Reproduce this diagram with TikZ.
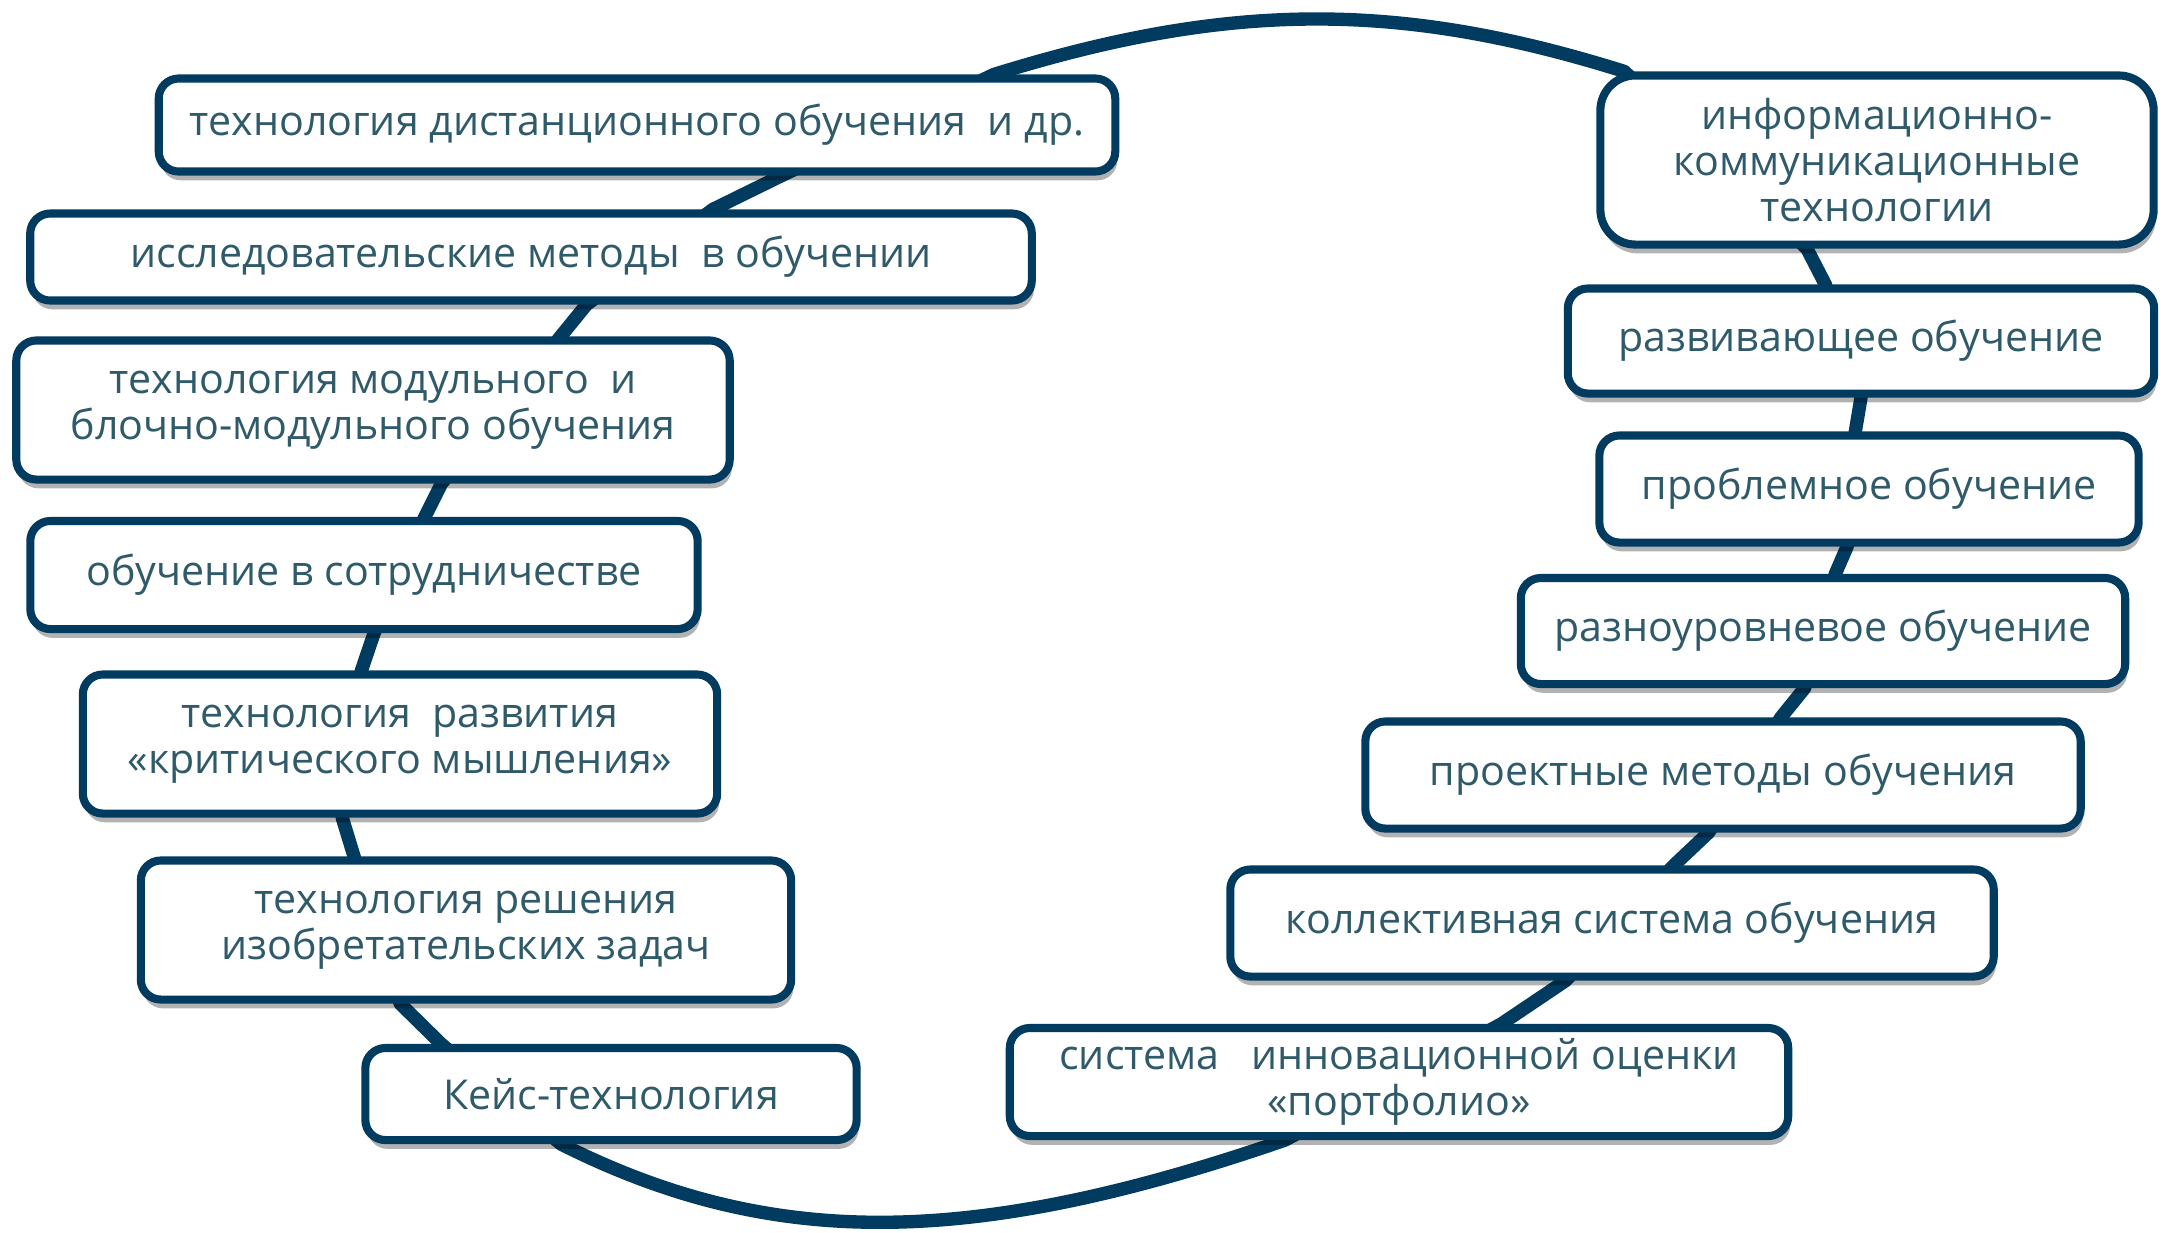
\documentclass[tikz,border=0pt]{standalone}
\usepackage{fontspec}
\setmainfont{Open Sans}
\usepackage{tikz}
\usepackage{xcolor}
\definecolor{vizRing}{HTML}{023B60}
\definecolor{vizText}{HTML}{2F5A6A}
\usetikzlibrary{calc,shadows,backgrounds}

\tikzset{
  techbox/.style={draw=vizRing, line width=2.3pt, fill=white, rounded corners=0.2cm,
    align=center, text=vizText, font=\fontsize{11.7}{13.2}\selectfont, inner sep=0pt,
    drop shadow={shadow xshift=0.6pt, shadow yshift=-2.5pt, fill=black, opacity=0.3}},
  ring/.style={draw=vizRing, line width=3.8pt, line join=round}
}

\begin{document}
\begin{tikzpicture}[x=0.01cm, y=-0.01cm]
  \useasboundingbox (0,0) rectangle (2164,1232);
  % left column
  \node[techbox, minimum width=9.56cm, minimum height=0.93cm] (a1) at (637,125) {технология дистанционного обучения \ и др.};
  \node[techbox, minimum width=10.01cm, minimum height=0.87cm] (a2) at (531,257) {исследовательские методы \ в обучении};
  \node[techbox, minimum width=7.13cm, minimum height=1.39cm] (a3) at (373,410) {технология модульного \ и\\блочно-модульного обучения};
  \node[techbox, minimum width=6.67cm, minimum height=1.08cm] (a4) at (364,575) {обучение в сотрудничестве};
  \node[techbox, minimum width=6.34cm, minimum height=1.39cm] (a5) at (400,744) {технология \ развития\\«критического мышления»};
  \node[techbox, minimum width=6.50cm, minimum height=1.39cm] (a6) at (466,930) {технология решения\\изобретательских задач};
  \node[techbox, minimum width=4.91cm, minimum height=0.92cm] (a7) at (611,1094) {Кейс-технология};
  % right column
  \node[techbox, rounded corners=0.35cm, minimum width=5.53cm, minimum height=1.69cm] (b1) at (1877,160) {информационно-\\коммуникационные\\технологии};
  \node[techbox, minimum width=5.86cm, minimum height=1.05cm] (b2) at (1861,341) {развивающее обучение};
  \node[techbox, minimum width=5.39cm, minimum height=1.07cm] (b3) at (1869,489) {проблемное обучение};
  \node[techbox, minimum width=6.04cm, minimum height=1.06cm] (b4) at (1823,631) {разноуровневое обучение};
  \node[techbox, minimum width=7.15cm, minimum height=1.07cm] (b5) at (1723,775) {проектные методы обучения};
  \node[techbox, minimum width=7.63cm, minimum height=1.07cm] (b6) at (1612,923) {коллективная система обучения};
  \node[techbox, minimum width=7.78cm, minimum height=1.08cm] (b7) at (1399,1082) {система \ \ инновационной оценки\\«портфолио»};
  % where the ring meets the boxes
  \coordinate (a1t) at ($(a1.north west)!.87!(a1.north east)$);
  \coordinate (a1b) at ($(a1.south west)!.65!(a1.south east)$);
  \coordinate (a2t) at ($(a2.north west)!.68!(a2.north east)$);
  \coordinate (a2b) at ($(a2.south west)!.555!(a2.south east)$);
  \coordinate (a3t) at ($(a3.north west)!.76!(a3.north east)$);
  \coordinate (a3b) at ($(a3.south west)!.595!(a3.south east)$);
  \coordinate (a4t) at ($(a4.north west)!.59!(a4.north east)$);
  \coordinate (a4b) at ($(a4.south west)!.515!(a4.south east)$);
  \coordinate (a5t) at ($(a5.north west)!.44!(a5.north east)$);
  \coordinate (a5b) at ($(a5.south west)!.41!(a5.south east)$);
  \coordinate (a6t) at ($(a6.north west)!.33!(a6.north east)$);
  \coordinate (a6b) at ($(a6.south west)!.40!(a6.south east)$);
  \coordinate (a7t) at ($(a7.north west)!.16!(a7.north east)$);
  \coordinate (a7b) at ($(a7.south west)!.40!(a7.south east)$);
  \coordinate (b1t) at ($(b1.north west)!.05!(b1.north east)$);
  \coordinate (b1b) at ($(b1.south west)!.375!(b1.south east)$);
  \coordinate (b2t) at ($(b2.north west)!.44!(b2.north east)$);
  \coordinate (b2b) at ($(b2.south west)!.50!(b2.south east)$);
  \coordinate (b3t) at ($(b3.north west)!.475!(b3.north east)$);
  \coordinate (b3b) at ($(b3.south west)!.46!(b3.south east)$);
  \coordinate (b4t) at ($(b4.north west)!.52!(b4.north east)$);
  \coordinate (b4b) at ($(b4.south west)!.47!(b4.south east)$);
  \coordinate (b5t) at ($(b5.north west)!.58!(b5.north east)$);
  \coordinate (b5b) at ($(b5.south west)!.48!(b5.south east)$);
  \coordinate (b6t) at ($(b6.north west)!.58!(b6.north east)$);
  \coordinate (b6b) at ($(b6.south west)!.44!(b6.south east)$);
  \coordinate (b7t) at ($(b7.north west)!.63!(b7.north east)$);
  \coordinate (b7b) at ($(b7.south west)!.355!(b7.south east)$);
  % the ring behind the boxes
  \begin{scope}[on background layer]
    \draw[ring] (b1t) -- (b1b) -- (b2t) -- (b2b) -- (b3t) -- (b3b) -- (b4t) -- (b4b)
      -- (b5t) -- (b5b) -- (b6t) -- (b6b) -- (b7t) -- (b7b)
      .. controls (969,1249) and (770,1249) .. (a7b)
      -- (a7t) -- (a6b) -- (a6t) -- (a5b) -- (a5t) -- (a4b) -- (a4t)
      -- (a3b) -- (a3t) -- (a2b) -- (a2t) -- (a1b) -- (a1t)
      .. controls (1230,1) and (1400,1) .. (b1t) -- cycle;
  \end{scope}
\end{tikzpicture}
\end{document}
